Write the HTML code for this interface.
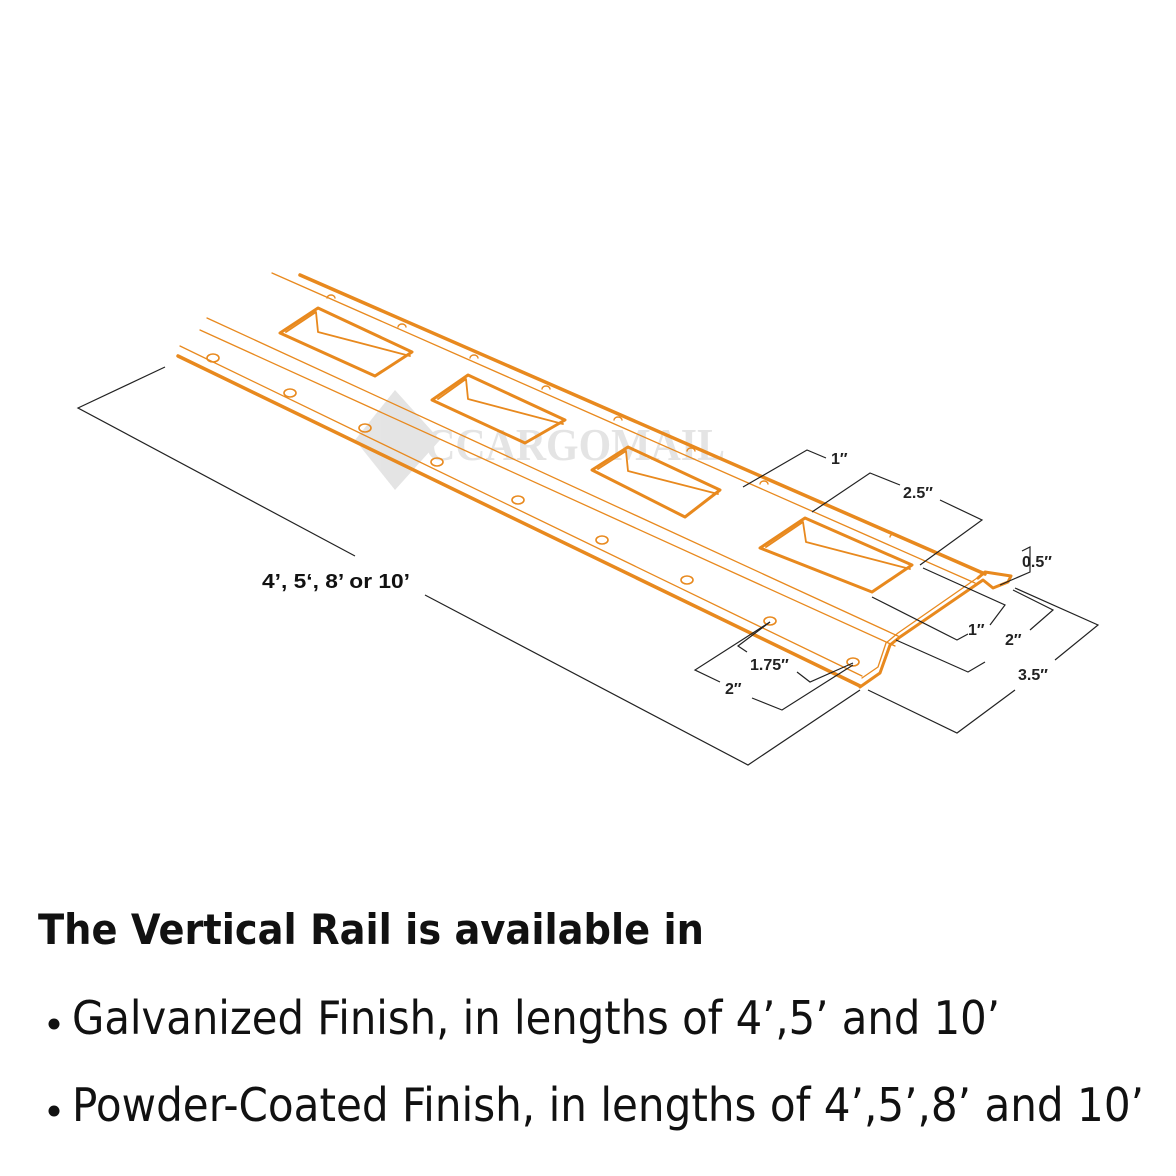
<!DOCTYPE html>
<html><head><meta charset="utf-8"><style>
html,body{margin:0;padding:0;background:#fff}
svg{display:block}
</style></head><body>
<svg width="1176" height="1176" viewBox="0 0 1176 1176" xmlns="http://www.w3.org/2000/svg">
<rect width="1176" height="1176" fill="#fff"/>
<g fill="#e2e2e2" opacity="0.9">
<polygon points="395,390 440,440 395,490 355,440"/>
<text x="395" y="460" font-family="Liberation Serif, serif" font-weight="bold" font-size="46" textLength="330" lengthAdjust="spacingAndGlyphs">DCCARGOMAIL</text>
</g>
<g fill="none" stroke="#e8891e" stroke-linecap="round" stroke-linejoin="round">
<line x1="300" y1="275" x2="985" y2="574" stroke-width="3.5"/>
<line x1="272" y1="273" x2="975" y2="583" stroke-width="1.3"/>
<line x1="207" y1="318" x2="900" y2="637" stroke-width="1.3"/>
<line x1="200" y1="330" x2="895" y2="646" stroke-width="1.3"/>
<line x1="180" y1="346" x2="862" y2="676" stroke-width="1.3"/>
<line x1="178" y1="356" x2="860" y2="686" stroke-width="3.5"/>
<path d="M860,687 L880,673 L890,645 L900,637 L983,580 L993,588 L1008,582 L1011,576 L985,572 L978,578" stroke-width="3"/>
<path d="M862,678 L878,667 L886,643 L898,633 L980,576" stroke-width="1.3"/>
<g stroke-width="3">
<path d="M280,333 L318,308 L412,352 L375,376 Z"/>
<path d="M432,400 L468,375 L565,420 L525,443 Z"/>
<path d="M592,470 L628,447 L720,490 L685,517 Z"/>
<path d="M760,548 L805,518 L912,565 L872,592 Z"/>
</g>
<g stroke-width="1.8">
<path d="M286,332 L316,312 L318,332 L410,356"/>
<path d="M438,399 L466,379 L468,399 L563,424"/>
<path d="M598,469 L626,451 L628,471 L718,494"/>
<path d="M766,547 L803,522 L806,542 L910,569"/>
</g>
<g stroke-width="1.6">
<ellipse cx="213" cy="358" rx="6" ry="4"/>
<ellipse cx="290" cy="393" rx="6" ry="4"/>
<ellipse cx="365" cy="428" rx="6" ry="4"/>
<ellipse cx="437" cy="462" rx="6" ry="4"/>
<ellipse cx="518" cy="500" rx="6" ry="4"/>
<ellipse cx="602" cy="540" rx="6" ry="4"/>
<ellipse cx="687" cy="580" rx="6" ry="4"/>
<ellipse cx="770" cy="621" rx="6" ry="4"/>
<ellipse cx="853" cy="662" rx="6" ry="4"/>
</g>
<g stroke-width="1.4">
<path d="M327,298 a4,3 0 0 1 8,0"/>
<path d="M398,327 a4,3 0 0 1 8,0"/>
<path d="M470,358 a4,3 0 0 1 8,0"/>
<path d="M542,389 a4,3 0 0 1 8,0"/>
<path d="M614,420 a4,3 0 0 1 8,0"/>
<path d="M687,451 a4,3 0 0 1 8,0"/>
<path d="M760,484 a4,3 0 0 1 8,0"/>
<path d="M890,537 a4,3 0 0 1 8,0"/>
</g>
</g>
<g fill="none" stroke="#222" stroke-width="1.2">
<polyline points="165,367 78,408 355,556"/>
<polyline points="425,595 748,765 860,690"/>
<polyline points="743,487 807,450 826,458"/>
<polyline points="812,512 870,473 900,485"/>
<polyline points="940,500 982,520 920,565"/>
<polyline points="872,597 957,640 968,634"/>
<polyline points="990,625 1005,605 923,568"/>
<polyline points="896,640 968,672 985,662"/>
<polyline points="1030,630 1053,610 1013,590"/>
<polyline points="868,690 957,733 1015,690"/>
<polyline points="1055,660 1098,625 1015,588"/>
<polyline points="1000,585 1030,572 1030,547 1022,551"/>
<polyline points="770,622 738,646 747,652"/>
<polyline points="797,672 810,682 853,663"/>
<polyline points="770,622 695,670 720,682"/>
<polyline points="752,698 782,710 853,665"/>
</g>
<g font-family="Liberation Sans, Arial, sans-serif" font-weight="bold" font-size="16" fill="#222">
<text x="831" y="464">1″</text>
<text x="903" y="498">2.5″</text>
<text x="1022" y="567">0.5″</text>
<text x="968" y="635">1″</text>
<text x="1005" y="645">2″</text>
<text x="1018" y="680">3.5″</text>
<text x="750" y="670">1.75″</text>
<text x="725" y="694">2″</text>
</g>
<text x="262" y="588" font-family="Liberation Sans, Arial, sans-serif" font-weight="bold" font-size="20" fill="#111" textLength="148" lengthAdjust="spacingAndGlyphs">4’, 5‘, 8’ or 10’</text>
<g font-family="DejaVu Sans, Liberation Sans, sans-serif" fill="#111">
<text x="38" y="944" font-weight="bold" font-size="42" textLength="666" lengthAdjust="spacingAndGlyphs">The Vertical Rail is available in</text>
<circle cx="54" cy="1024" r="5.5"/>
<text x="72" y="1034" font-size="46" textLength="928" lengthAdjust="spacingAndGlyphs">Galvanized Finish, in lengths of 4’,5’ and 10’</text>
<circle cx="54" cy="1111" r="5.5"/>
<text x="72" y="1121" font-size="46" textLength="1072" lengthAdjust="spacingAndGlyphs">Powder-Coated Finish, in lengths of 4’,5’,8’ and 10’</text>
</g>
</svg>
</body></html>
